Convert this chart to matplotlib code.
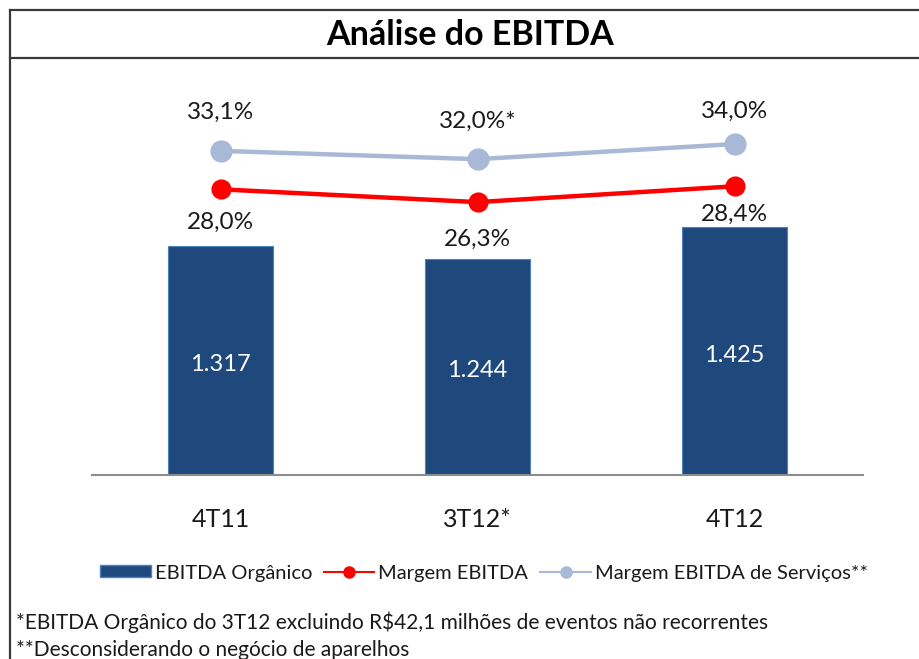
import matplotlib.pyplot as plt
from matplotlib.lines import Line2D
from matplotlib.patches import Patch

plt.rcParams['font.family'] = ['Lato', 'DejaVu Sans']

# data
categories = ['4T11', '3T12*', '4T12']
ebitda_organico = [1317, 1244, 1425]
ebitda_labels = ['1.317', '1.244', '1.425']
margem_ebitda = [28.0, 26.3, 28.4]
margem_labels = ['28,0%', '26,3%', '28,4%']
margem_servicos = [33.1, 32.0, 34.0]
servicos_labels = ['33,1%', '32,0%*', '34,0%']
footnotes = ['*EBITDA Orgânico do 3T12 excluindo R$42,1 milhões de eventos não recorrentes',
             '**Desconsiderando o negócio de aparelhos']

W, H = 920, 659
bar_color = '#1f497d'
red = '#ff0000'
gray = '#a9b8d6'
txt = '#1a1a1a'

fig = plt.figure(figsize=(W / 100, H / 100), dpi=100)

def fx(px):
    return px / W

def fy(py):
    return 1 - py / H

# frame of the box
frame = '#3a3a3a'
fig.add_artist(Line2D([fx(10), fx(10)], [fy(10), 0], color=frame, lw=1.6))
fig.add_artist(Line2D([fx(10), 1], [fy(10), fy(10)], color=frame, lw=1.6))
fig.add_artist(Line2D([fx(10), 1], [fy(58), fy(58)], color=frame, lw=1.6))
fig.text(fx(470), fy(35), 'Análise do EBITDA', ha='center', va='center',
         fontsize=24.5, fontweight='bold', color='black')

ax = fig.add_axes([fx(92), fy(475), fx(863) - fx(92), fy(80) - fy(475)])
x = list(range(len(categories)))
ax.bar(x, ebitda_organico, width=0.41, color=bar_color, edgecolor='#4f81bd',
       linewidth=0.8, zorder=2)
ax.set_xlim(-0.5, 2.5)
ax.set_ylim(0, 2270)
for s in ['top', 'right', 'left']:
    ax.spines[s].set_visible(False)
ax.spines['bottom'].set_color('#8c8c8c')
ax.spines['bottom'].set_linewidth(1.5)
ax.set_yticks([])
ax.set_xticks(x)
ax.set_xticklabels(categories, fontsize=18, color=txt)
ax.tick_params(axis='x', length=0, pad=24)
for i, v in enumerate(ebitda_organico):
    ax.annotate(ebitda_labels[i], (i, v / 2), xytext=(0, -3),
                textcoords='offset points', ha='center', va='center',
                color='white', fontsize=17)

ax2 = ax.twinx()
ax2.set_ylim(-9.9, 42.5)
ax2.axis('off')
ax2.plot(x, margem_servicos, color=gray, lw=3.2, marker='o', ms=15, zorder=3)
ax2.plot(x, margem_ebitda, color=red, lw=3.2, marker='o', ms=13.5, zorder=3)
up = [27.4, 27.4, 23.8]
down = [-24.0, -26.6, -20.5]
for i in x:
    ax2.annotate(servicos_labels[i], (i, margem_servicos[i]), xytext=(0, up[i]),
                 textcoords='offset points', ha='center', va='center',
                 fontsize=17.5, color=txt)
    ax2.annotate(margem_labels[i], (i, margem_ebitda[i]), xytext=(0, down[i]),
                 textcoords='offset points', ha='center', va='center',
                 fontsize=17.5, color=txt)

handles = [Patch(facecolor=bar_color, edgecolor='#4f81bd'),
           Line2D([], [], color=red, lw=1.5, marker='o', ms=8),
           Line2D([], [], color=gray, lw=1.5, marker='o', ms=8)]
labels = ['EBITDA Orgânico', 'Margem EBITDA', 'Margem EBITDA de Serviços**']
fig.legend(handles, labels, loc='center', bbox_to_anchor=(fx(484), fy(573)),
           ncol=3, frameon=False, fontsize=14.5, handlelength=2.5,
           handleheight=0.55, handletextpad=0.2, columnspacing=0.6,
           labelcolor=txt)

fig.text(fx(16), fy(622), footnotes[0], ha='left', va='center', fontsize=15, color=txt)
fig.text(fx(16), fy(650), footnotes[1], ha='left', va='center', fontsize=15, color=txt)

fig.savefig('out.png', dpi=100)
